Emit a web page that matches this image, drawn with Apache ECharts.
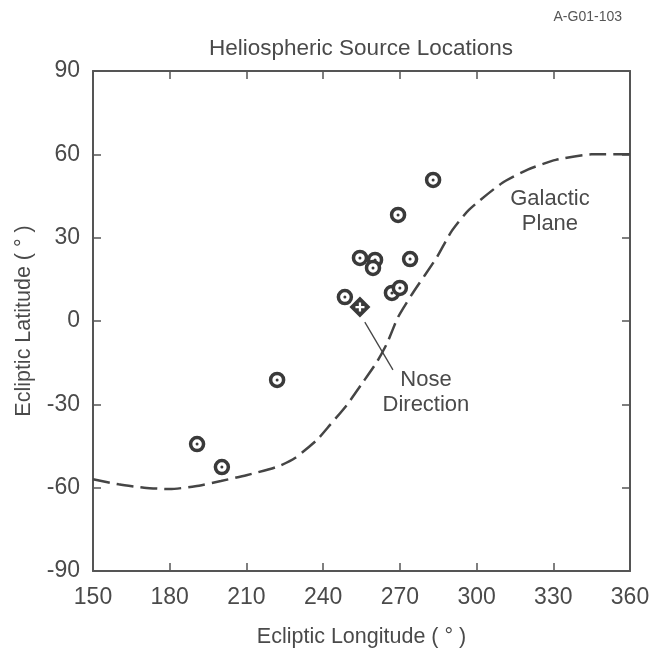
<!DOCTYPE html>
<html>
<head>
<meta charset="utf-8">
<title>Heliospheric Source Locations</title>
<script src="https://cdn.jsdelivr.net/npm/echarts@6/dist/echarts.min.js"></script>
<style>
  html, body { margin: 0; padding: 0; background: #fff; }
  #chart { width: 652px; height: 649px; }
</style>
</head>
<body>
<div id="chart"></div>
<script>
// Source positions in ecliptic coordinates [longitude, latitude] (degrees)
const sourceLocations = [
  [283.0, 50.8],
  [269.3, 38.2],
  [254.4, 22.7],
  [260.3, 22.0],
  [259.5, 19.1],
  [274.0, 22.3],
  [248.5, 8.6],
  [266.9, 10.1],
  [270.0, 11.9],
  [222.0, -21.2],
  [190.7, -44.3],
  [200.4, -52.6]
];

// Interstellar flow (nose) direction
const noseDirection = [[254.4, 5.0]];

// Leader line from the nose marker to its label
const noseLeader = [[256.3, -0.4], [267.3, -17.6]];

// Galactic plane traced in ecliptic coordinates
const galacticPlane = [
  [150, -57.0], [160, -58.8], [170, -60.0], [180, -60.5], [190, -59.5],
  [200, -57.6], [210, -55.5], [222, -52.5], [229, -49.3], [237.6, -42.8],
  [242.7, -37.4], [249.3, -30.2], [255.6, -22.0], [261, -14.8], [265, -8.0],
  [269.3, 1.4], [275, 10.0], [284.5, 23.0], [290, 32.0], [297, 40.0],
  [310, 49.7], [320, 54.5], [331, 58.0], [345, 60.0], [360, 60.0]
];

// Text annotations placed in data coordinates
const annotations = [
  { name: 'Nose\nDirection', value: [280.2, -25.6] },
  { name: 'Galactic\nPlane', value: [328.7, 39.6] }
];

// Axis ranges and tick spacing
const lonRange = { min: 150, max: 360, step: 30 };
const latRange = { min: -90, max: 90, step: 30 };

const ink = '#454545';
const textColor = '#4a4a4a';
const fontFamily = 'Liberation Sans, Arial, Helvetica, sans-serif';

const chart = echarts.init(document.getElementById('chart'), null, { renderer: 'canvas' });

const frameAxis = {
  axisLine: { show: true, onZero: false, lineStyle: { color: '#555', width: 2 } },
  axisTick: { show: true, inside: true, length: 8, lineStyle: { color: '#555', width: 1.5 } },
  splitLine: { show: false }
};

chart.setOption({
  backgroundColor: '#fff',
  animation: false,
  title: [
    {
      text: 'Heliospheric Source Locations',
      left: 356, top: 32, textAlign: 'center',
      textStyle: { color: textColor, fontSize: 22.5, fontWeight: 'normal', fontFamily }
    },
    {
      text: 'A-G01-103',
      right: 25, top: 5,
      textStyle: { color: '#555', fontSize: 14, fontWeight: 'normal', fontFamily }
    }
  ],
  grid: { left: 93, right: 22, top: 71, bottom: 78, containLabel: false, outerBoundsMode: 'none' },
  xAxis: [
    Object.assign({}, frameAxis, {
      type: 'value', position: 'bottom',
      min: lonRange.min, max: lonRange.max, interval: lonRange.step,
      name: 'Ecliptic Longitude ( ° )', nameLocation: 'middle', nameGap: 55,
      nameTextStyle: { color: textColor, fontSize: 21.5, fontFamily },
      axisLabel: { color: textColor, fontSize: 23, margin: 15, fontFamily }
    }),
    Object.assign({}, frameAxis, {
      type: 'value', position: 'top',
      min: lonRange.min, max: lonRange.max, interval: lonRange.step,
      axisLabel: { show: false }
    })
  ],
  yAxis: [
    Object.assign({}, frameAxis, {
      type: 'value', position: 'left',
      min: latRange.min, max: latRange.max, interval: latRange.step,
      name: 'Ecliptic Latitude ( ° )', nameLocation: 'middle', nameGap: 58, nameRotate: 90,
      nameTextStyle: { color: textColor, fontSize: 21.5, fontFamily },
      axisLabel: { color: textColor, fontSize: 23, margin: 13, fontFamily }
    }),
    Object.assign({}, frameAxis, {
      type: 'value', position: 'right',
      min: latRange.min, max: latRange.max, interval: latRange.step,
      axisLabel: { show: false }
    })
  ],
  series: [
    {
      name: 'Galactic Plane',
      type: 'line',
      data: galacticPlane,
      smooth: 0.2,
      symbol: 'none',
      lineStyle: { color: ink, width: 2.5, type: [17, 7] },
      z: 2
    },
    {
      name: 'Nose Leader',
      type: 'line',
      data: noseLeader,
      symbol: 'none',
      lineStyle: { color: ink, width: 1.3 },
      z: 3
    },
    {
      name: 'Sources',
      type: 'scatter',
      data: sourceLocations,
      symbol: 'circle',
      symbolSize: 13,
      itemStyle: { color: '#fff', borderColor: '#3a3a3a', borderWidth: 3.5, opacity: 1 },
      z: 4
    },
    {
      name: 'Source Centers',
      type: 'scatter',
      data: sourceLocations,
      symbol: 'circle',
      symbolSize: 3,
      itemStyle: { color: '#3a3a3a', opacity: 1 },
      z: 5
    },
    {
      name: 'Nose',
      type: 'scatter',
      data: noseDirection,
      symbol: 'diamond',
      symbolSize: 21,
      itemStyle: { color: '#3a3a3a', opacity: 1 },
      z: 6
    },
    {
      name: 'Nose Cross',
      type: 'scatter',
      data: noseDirection,
      symbol: 'path://M3,0H5V3H8V5H5V8H3V5H0V3H3Z',
      symbolSize: 9,
      itemStyle: { color: '#fff', opacity: 1 },
      z: 7
    },
    {
      name: 'Labels',
      type: 'scatter',
      data: annotations,
      symbol: 'circle',
      symbolSize: 1,
      itemStyle: { color: 'rgba(0,0,0,0)', opacity: 1 },
      label: {
        show: true,
        position: 'inside',
        formatter: '{b}',
        align: 'center',
        verticalAlign: 'middle',
        color: textColor,
        fontSize: 22,
        lineHeight: 25,
        fontFamily
      },
      z: 8
    }
  ]
});
</script>
</body>
</html>
